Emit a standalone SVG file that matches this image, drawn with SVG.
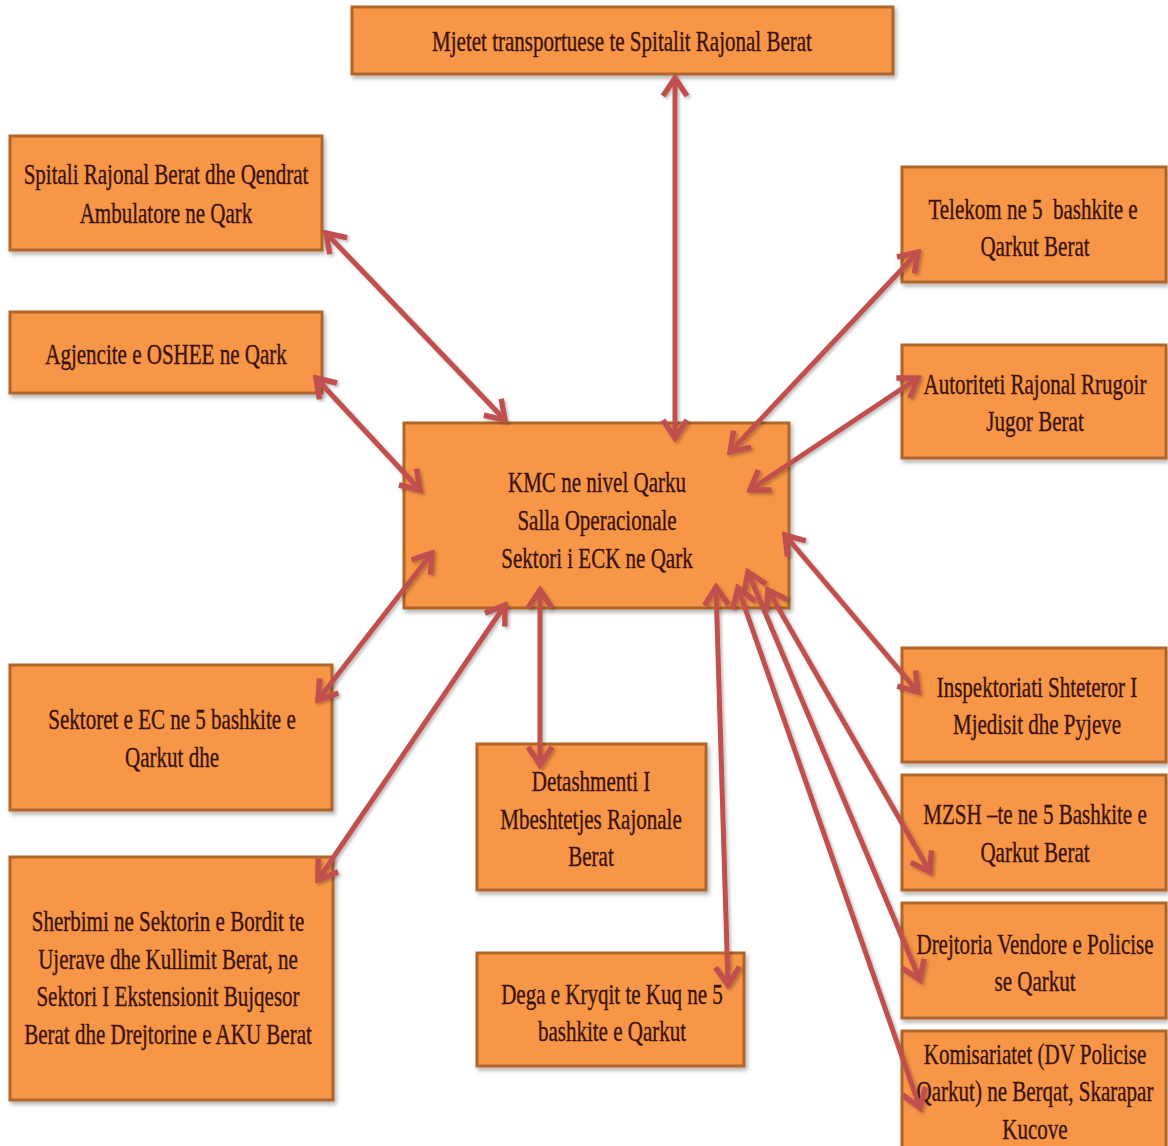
<svg xmlns="http://www.w3.org/2000/svg" width="1168" height="1146" viewBox="0 0 1168 1146">
<defs>
<style>
.box{fill:#F79646;stroke:#B0662A;stroke-width:3;filter:url(#sh)}
.t{font-family:"Liberation Serif","Times New Roman",serif;font-size:29px;fill:#3A1210;stroke:#3A1210;stroke-width:0.35;text-anchor:middle}
.c{fill:none;stroke:#C0504D;stroke-width:5;marker-start:url(#ah);marker-end:url(#ah)}
</style>
<filter id="sh" x="-10%" y="-10%" width="130%" height="130%">
<feDropShadow dx="2" dy="3" stdDeviation="2" flood-color="#000" flood-opacity="0.3"/>
</filter>
<filter id="ash" x="-20%" y="-20%" width="140%" height="140%">
<feDropShadow dx="2" dy="2" stdDeviation="1.5" flood-color="#000" flood-opacity="0.25"/>
</filter>
<marker id="ah" viewBox="0 0 30 30" refX="26" refY="15" markerWidth="30" markerHeight="30" markerUnits="userSpaceOnUse" orient="auto-start-reverse">
<path d="M8,3 L26,15 L8,27" fill="none" stroke="#C0504D" stroke-width="5.5" stroke-linejoin="miter"/>
</marker>
</defs>
<rect width="1168" height="1146" fill="#fff"/>

<g id="n-top"><rect class="box" x="352" y="7" width="541" height="67"/>
<text class="t" transform="translate(622,51) scale(0.725,1)">Mjetet transportuese te Spitalit Rajonal Berat</text></g>

<g id="n-spitali"><rect class="box" x="10" y="136" width="312" height="114"/>
<text class="t" transform="translate(166,184) scale(0.725,1)">Spitali Rajonal Berat dhe Qendrat</text>
<text class="t" transform="translate(166,223) scale(0.725,1)">Ambulatore ne Qark</text></g>

<g id="n-agjencite"><rect class="box" x="10" y="312" width="312" height="81"/>
<text class="t" transform="translate(166,364) scale(0.725,1)">Agjencite e OSHEE ne Qark</text></g>

<g id="n-telekom"><rect class="box" x="902" y="167" width="264" height="115"/>
<text class="t" xml:space="preserve" transform="translate(1033,219) scale(0.725,1)">Telekom ne 5  bashkite e</text>
<text class="t" transform="translate(1035,256) scale(0.725,1)">Qarkut Berat</text></g>

<g id="n-autoriteti"><rect class="box" x="902" y="345" width="264" height="113"/>
<text class="t" transform="translate(1035,394) scale(0.725,1)">Autoriteti Rajonal Rrugoir</text>
<text class="t" transform="translate(1035,431) scale(0.725,1)">Jugor Berat</text></g>

<g id="n-center"><rect class="box" x="404" y="423" width="385" height="185"/>
<text class="t" transform="translate(597,492) scale(0.725,1)">KMC ne nivel Qarku</text>
<text class="t" transform="translate(597,530) scale(0.725,1)">Salla Operacionale</text>
<text class="t" transform="translate(597,568) scale(0.725,1)">Sektori i ECK ne Qark</text></g>

<g id="n-sektoret"><rect class="box" x="10" y="665" width="322" height="145"/>
<text class="t" transform="translate(172,729) scale(0.725,1)">Sektoret e EC ne 5 bashkite e</text>
<text class="t" transform="translate(172,767) scale(0.725,1)">Qarkut dhe</text></g>

<g id="n-detashmenti"><rect class="box" x="477" y="744" width="229" height="146"/>
<text class="t" transform="translate(591,791) scale(0.725,1)">Detashmenti I</text>
<text class="t" transform="translate(591,829) scale(0.725,1)">Mbeshtetjes Rajonale</text>
<text class="t" transform="translate(591,866) scale(0.725,1)">Berat</text></g>

<g id="n-sherbimi"><rect class="box" x="10" y="857" width="323" height="243"/>
<text class="t" transform="translate(168,931) scale(0.725,1)">Sherbimi ne Sektorin e Bordit te</text>
<text class="t" transform="translate(168,969) scale(0.725,1)">Ujerave dhe Kullimit Berat, ne</text>
<text class="t" transform="translate(168,1006) scale(0.725,1)">Sektori I Ekstensionit Bujqesor</text>
<text class="t" transform="translate(168,1044) scale(0.725,1)">Berat dhe Drejtorine e AKU Berat</text></g>

<g id="n-dega"><rect class="box" x="477" y="953" width="267" height="113"/>
<text class="t" transform="translate(612,1004) scale(0.725,1)">Dega e Kryqit te Kuq ne 5</text>
<text class="t" transform="translate(612,1041) scale(0.725,1)">bashkite e Qarkut</text></g>

<g id="n-inspektoriati"><rect class="box" x="902" y="648" width="264" height="114"/>
<text class="t" transform="translate(1037,697) scale(0.725,1)">Inspektoriati Shteteror I</text>
<text class="t" transform="translate(1037,734) scale(0.725,1)">Mjedisit dhe Pyjeve</text></g>

<g id="n-mzsh"><rect class="box" x="902" y="775" width="264" height="115"/>
<text class="t" transform="translate(1035,824) scale(0.725,1)">MZSH –te ne 5 Bashkite e</text>
<text class="t" transform="translate(1035,862) scale(0.725,1)">Qarkut Berat</text></g>

<g id="n-drejtoria"><rect class="box" x="902" y="903" width="264" height="115"/>
<text class="t" transform="translate(1035,954) scale(0.725,1)">Drejtoria Vendore e Policise</text>
<text class="t" transform="translate(1035,991) scale(0.725,1)">se Qarkut</text></g>

<g id="n-komisariatet"><rect class="box" x="902" y="1031" width="264" height="118"/>
<text class="t" transform="translate(1035,1064) scale(0.725,1)">Komisariatet (DV Policise</text>
<text class="t" transform="translate(1035,1101) scale(0.725,1)">Qarkut) ne Berqat, Skarapar</text>
<text class="t" transform="translate(1035,1139) scale(0.725,1)">Kucove</text></g>

<g id="connectors" filter="url(#ash)">
<line class="c" x1="675" y1="78" x2="675" y2="438"/>
<line class="c" x1="326" y1="233" x2="505" y2="420"/>
<line class="c" x1="316" y1="378" x2="420" y2="490"/>
<line class="c" x1="918" y1="252" x2="730" y2="452"/>
<line class="c" x1="918" y1="378" x2="750" y2="490"/>
<line class="c" x1="785" y1="535" x2="918" y2="692"/>
<line class="c" x1="318" y1="700" x2="432" y2="553"/>
<line class="c" x1="318" y1="880" x2="505" y2="605"/>
<line class="c" x1="540" y1="590" x2="540" y2="765"/>
<line class="c" x1="716" y1="587" x2="728" y2="985"/>
<line class="c" x1="748" y1="572" x2="920" y2="980"/>
<line class="c" x1="738" y1="588" x2="920" y2="1108"/>
<line class="c" x1="768" y1="590" x2="930" y2="872"/>
</g>
</svg>
